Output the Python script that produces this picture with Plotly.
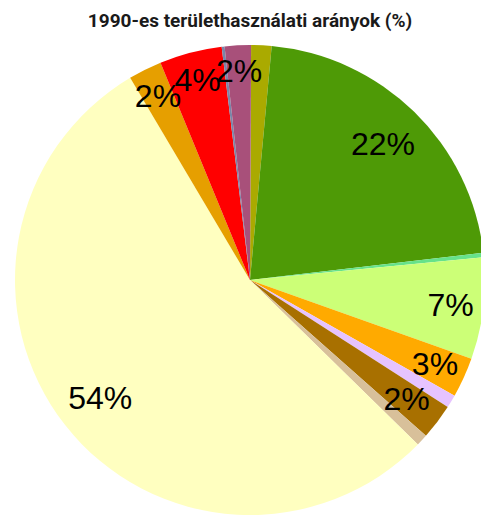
import plotly.graph_objects as go

categories = ["olive", "green", "mint", "lime", "orange", "lavender", "brown", "tan",
              "cream", "amber", "red", "slate", "plum"]
values = [1.4, 21.7, 0.3, 7.0, 2.75, 0.9, 2.45, 0.8, 54.2, 2.3, 4.3, 0.2, 1.8]
colors = ["#AAAA00", "#4E9A06", "#66E28A", "#CCFF77", "#FFAA00", "#E6C3FF", "#A87000",
          "#D8C09A", "#FFFFC0", "#E69F00", "#FF0000", "#7A86A8", "#A8507A"]

# which label layer each slice's percentage is drawn in (None = no label)
label_layer = [None, "wide", None, "mid", "outer", None, "inner", None,
               "wide", "outer", "wide", None, "outer"]

total = sum(values)
pct_txt = [f"{round(v / total * 100)}%" for v in values]

start_rot = 5.3 - values[0] / total * 360

common = dict(
    labels=categories,
    values=values,
    sort=False,
    direction="clockwise",
    rotation=start_rot,
    hoverinfo="none",
    showlegend=False,
)

label_font = dict(family="Liberation Sans, Arial, sans-serif", size=32, color="#000000")

# full coloured disc underneath
fig = go.Figure(go.Pie(textinfo="none",
                       marker=dict(colors=colors, line=dict(width=0)), **common))

# transparent rings that only carry the percentage labels
layers = {
    "wide": dict(hole=0.62, domain=dict(x=[0, 1], y=[0, 1])),
    "mid": dict(hole=0.72, domain=dict(x=[0, 1], y=[0, 1])),
    "outer": dict(hole=0.62, domain=dict(x=[0.03, 0.97], y=[0.03, 0.97])),
    "inner": dict(hole=0.6, domain=dict(x=[0.05, 0.95], y=[0.05, 0.95])),
}
for name, opts in layers.items():
    txt = [t if lay == name else "" for t, lay in zip(pct_txt, label_layer)]
    fig.add_trace(go.Pie(
        text=txt,
        textinfo="text",
        textposition="inside",
        insidetextorientation="horizontal",
        textfont=label_font,
        marker=dict(colors=["rgba(0,0,0,0)"] * len(values), line=dict(width=0)),
        **opts,
        **common,
    ))

fig.update_layout(
    width=500, height=515,
    margin=dict(l=15, r=15, t=45, b=0),
    paper_bgcolor="white",
    uniformtext=dict(minsize=32, mode="show"),
    title=dict(text="<b>1990-es területhasználati arányok (%)</b>", x=0.5, xanchor="center",
               y=0.961, yanchor="middle",
               font=dict(family="Roboto, sans-serif", size=19, color="#1a1a1a")),
)

fig.write_html(
    "out.html",
    config={"displayModeBar": False},
    post_script="document.body.style.margin='0';document.body.style.overflow='hidden';",
)
